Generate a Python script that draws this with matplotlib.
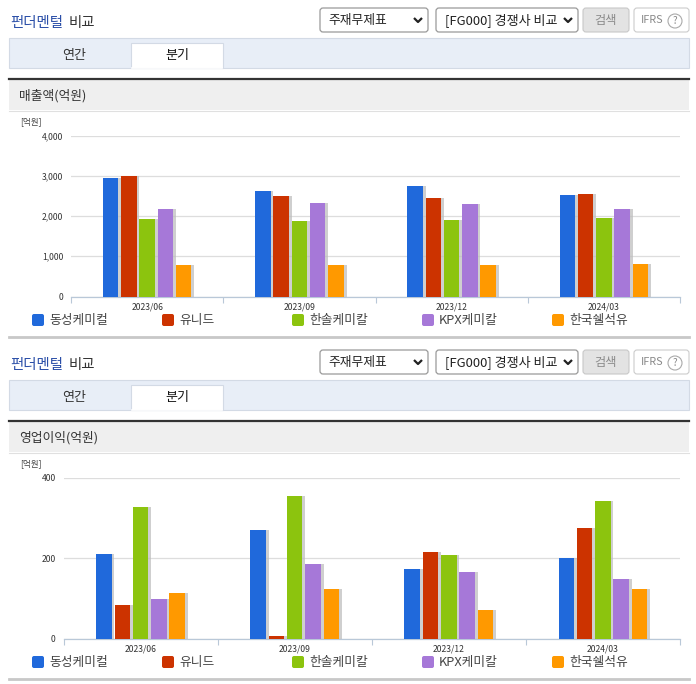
# Fundamental comparison panels: sales and operating profit
import matplotlib
matplotlib.use('Agg')
import numpy as np
import matplotlib.pyplot as plt
import matplotlib.patheffects as pe
from matplotlib.patches import Rectangle, FancyBboxPatch, Circle
from matplotlib.ticker import FixedLocator, NullFormatter

plt.rcParams['font.family'] = ['Noto Sans CJK KR', 'DejaVu Sans']

quarters = ['2023/06', '2023/09', '2023/12', '2024/03']
companies = ['동성케미컬', '유니드', '한솔케미칼', 'KPX케미칼', '한국쉘석유']
colors = ['#2069DB', '#CC3300', '#8CC40E', '#A678D8', '#FF9900']

sales_dongsung = [2933, 2633, 2742, 2517]
sales_unid = [2995, 2492, 2458, 2542]
sales_hansol = [1933, 1867, 1908, 1958]
sales_kpx = [2183, 2317, 2292, 2183]
sales_shell = [783, 783, 783, 808]
sales_ticks = [0, 1000, 2000, 3000, 4000]

profit_dongsung = [211, 269, 173, 199]
profit_unid = [82, 6, 214, 274]
profit_hansol = [327, 354, 208, 341]
profit_kpx = [99, 184, 166, 148]
profit_shell = [114, 122, 72, 122]
profit_ticks = [0, 200, 400]

W, H = 696, 684
fig = plt.figure(figsize=(W / 100, H / 100), dpi=100)

# page chrome is laid out in pixels on a full-figure axes
page = fig.add_axes([0, 0, 1, 1])
page.set_xlim(0, W)
page.set_ylim(H, 0)
page.axis('off')


def box(x0, y0, x1, y1, fc, ec='none', lw=0.8, round_px=0):
    if round_px:
        patch = FancyBboxPatch((x0 + round_px, y0 + round_px), x1 - x0 - 2 * round_px, y1 - y0 - 2 * round_px,
                               boxstyle=f'round,pad={round_px},rounding_size={round_px}',
                               fc=fc, ec=ec, lw=lw)
    else:
        patch = Rectangle((x0, y0), x1 - x0, y1 - y0, fc=fc, ec=ec, lw=lw)
    page.add_patch(patch)


def chevron(x, y):
    page.plot([x - 4, x, x + 4], [y - 2, y + 2, y - 2], color='#222222', lw=1.6, solid_capstyle='butt')


def draw_header(dy, section_title):
    page.text(10, 23 + dy, '펀더멘털', color='#2B4FA8', fontsize=10.4, fontweight='medium', va='center')
    page.text(69, 23 + dy, '비교', color='#333333', fontsize=10.4, fontweight='medium', va='center')

    # selects and buttons
    box(320, 8 + dy, 428, 32 + dy, 'white', '#9A9A9A', 0.9, 3)
    page.text(328, 20.5 + dy, '주재무제표', color='#222222', fontsize=9.2, va='center')
    chevron(418, 20 + dy)
    box(436, 8 + dy, 578, 32 + dy, 'white', '#9A9A9A', 0.9, 3)
    page.text(445, 20.5 + dy, '[FG000] 경쟁사 비교', color='#222222', fontsize=9.4, va='center')
    chevron(568, 20 + dy)
    box(583, 8 + dy, 629, 32 + dy, '#E3E3E3', '#C8C8C8', 0.8, 3)
    page.text(606, 20.5 + dy, '검색', color='#8A8A8A', fontsize=8.8, ha='center', va='center')
    box(634, 8 + dy, 689, 32 + dy, 'white', '#CCCCCC', 0.8, 3)
    page.text(641, 20 + dy, 'IFRS', color='#8A8A8A', fontsize=7.8, va='center')
    page.add_patch(Circle((675, 21 + dy), 7, fc='white', ec='#AAAAAA', lw=0.8))
    page.text(675, 21 + dy, '?', color='#888888', fontsize=7, ha='center', va='center')

    # tabs
    box(9, 38 + dy, 689, 68 + dy, '#E8EEF7', '#D3DAE5', 0.8)
    box(131, 43 + dy, 223, 68 + dy, 'white', '#D3DAE5', 0.8)
    page.plot([131.6, 222.4], [68 + dy, 68 + dy], color='white', lw=1.2)
    page.text(74, 55 + dy, '연간', color='#333333', fontsize=9.4, ha='center', va='center')
    page.text(177, 55.5 + dy, '분기', color='#111111', fontsize=9.4, ha='center', va='center')

    # section bar
    box(9, 80 + dy, 689, 110 + dy, '#EFEFEF')
    page.plot([9, 689], [110.5 + dy, 110.5 + dy], color='#E0E0E0', lw=0.8)
    page.plot([9, 689], [79 + dy, 79 + dy], color='#333333', lw=1.6)
    page.text(19, 95.5 + dy, section_title, color='#333333', fontsize=9.2, va='center')
    page.text(20, 122 + dy, '[억원]', color='#444444', fontsize=6.2, va='center')

    # legend row
    for i, (name, color) in enumerate(zip(companies, colors)):
        x = 32 + 130 * i
        box(x, 314 + dy, x + 12, 326 + dy, color, round_px=2)
        page.text(x + 17, 320.5 + dy, name, color='#444444', fontsize=9.2, va='center')

    page.plot([9, 689], [337 + dy, 337 + dy], color='#C8C8C8', lw=2)


def draw_chart(left, right, top, bottom, series, ticks):
    ax = fig.add_axes([left / W, 1 - bottom / H, (right - left) / W, (bottom - top) / H])
    ax.patch.set_alpha(0)
    x = np.arange(len(quarters))
    # one category spans (right - left) / 4 px
    px = len(quarters) / (right - left)
    step = 18.3 * px
    width = 15.5 * px
    shadow = [pe.SimplePatchShadow(offset=(2.0, 0), shadow_rgbFace='#BBBBBB', alpha=0.7), pe.Normal()]
    for j, values in enumerate(series):
        bars = ax.bar(x + (j - 2) * step, values, width, color=colors[j], zorder=3)
        for bar in bars:
            bar.set_path_effects(shadow)
    ax.set_xlim(-0.5, len(quarters) - 0.5)
    ax.set_ylim(ticks[0], ticks[-1])
    ax.set_yticks(ticks, [f'{t:,}' for t in ticks])
    ax.set_xticks(x, quarters)
    ax.xaxis.set_minor_locator(FixedLocator(np.arange(len(quarters) + 1) - 0.5))
    ax.xaxis.set_minor_formatter(NullFormatter())
    ax.tick_params(axis='x', which='major', length=0, labelsize=6.2, labelcolor='#333333', pad=4.5)
    ax.tick_params(axis='x', which='minor', length=4, width=0.8, color='#B9C8D8')
    ax.tick_params(axis='y', length=0, labelsize=6.2, labelcolor='#333333', pad=5.5)
    ax.grid(axis='y', color='#DDDDDD', lw=0.9, zorder=0)
    ax.set_axisbelow(True)
    for side in ('top', 'left', 'right'):
        ax.spines[side].set_visible(False)
    ax.spines['bottom'].set_color('#B9C8D8')
    ax.spines['bottom'].set_linewidth(0.9)
    return ax


draw_header(0, '매출액(억원)')
draw_chart(71, 680, 135.5, 296.5,
           [sales_dongsung, sales_unid, sales_hansol, sales_kpx, sales_shell], sales_ticks)

draw_header(342, '영업이익(억원)')
draw_chart(63.5, 680, 477.5, 638.5,
           [profit_dongsung, profit_unid, profit_hansol, profit_kpx, profit_shell], profit_ticks)

fig.savefig('out.png', dpi=100)
